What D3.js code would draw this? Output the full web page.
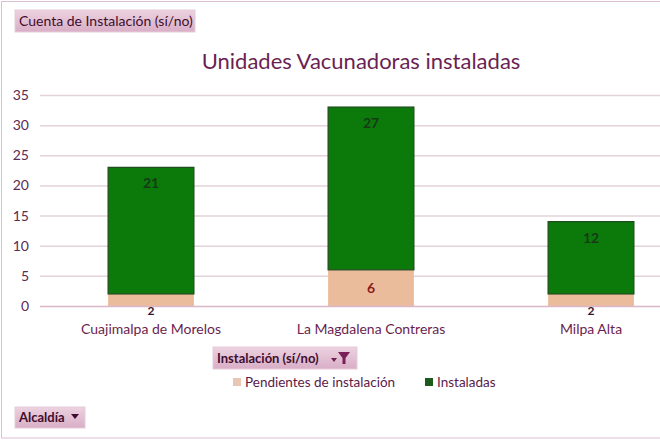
<!DOCTYPE html>
<html>
<head>
<meta charset="utf-8">
<script src="https://cdn.jsdelivr.net/npm/d3@7"></script>
<style>
  body { margin: 0; background: #fff; }
  svg { display: block; font-family: Lato, "Open Sans", sans-serif; }
</style>
</head>
<body>
<svg id="chart" width="660" height="440"></svg>
<script>
// chart values
var categories = ["Cuajimalpa de Morelos", "La Magdalena Contreras", "Milpa Alta"];
var pendientes = [2, 6, 2];
var instaladas = [21, 27, 12];
var seriesNames = ["Pendientes de instalación", "Instaladas"];
var yTicks = [0, 5, 10, 15, 20, 25, 30, 35];

var colors = ["#ebbc9c", "#0b7a0b"];

var svg = d3.select("#chart");
var W = 660, H = 440;

// outer frame
svg.append("rect")
  .attr("x", 1.5).attr("y", 1.5)
  .attr("width", W).attr("height", H - 3.5)
  .attr("fill", "#fff")
  .attr("stroke", "#dcc0d0");

var x = d3.scaleBand()
  .domain(categories)
  .range([41, 701])
  .paddingInner(0.61)
  .paddingOuter(0.305);

var y = d3.scaleLinear().domain([0, 35]).range([306, 95]);

// gridlines
svg.append("g").selectAll("line")
  .data(yTicks.filter(function(d) { return d > 0; }))
  .enter().append("line")
  .attr("x1", 40).attr("x2", W)
  .attr("y1", function(d) { return y(d) + 0.5; })
  .attr("y2", function(d) { return y(d) + 0.5; })
  .attr("stroke", "#e3d3da")
  .attr("stroke-width", 1.5);

// y axis labels
var yAxis = svg.append("g")
  .attr("transform", "translate(29,0)")
  .call(d3.axisLeft(y).tickValues(yTicks).tickSize(0).tickPadding(0));
yAxis.select(".domain").remove();
yAxis.selectAll("text")
  .attr("fill", "#5c2a52")
  .style("font-size", "14px")
  .style("font-family", "Lato, sans-serif");

// stacked data
var rows = categories.map(function(c, i) {
  return { cat: c, p: pendientes[i], s: instaladas[i] };
});
var stack = d3.stack().keys(["p", "s"]);
var layers = stack(rows);

var g = svg.append("g");
layers.forEach(function(layer, li) {
  g.selectAll(".bar" + li)
    .data(layer)
    .enter().append("rect")
    .attr("x", function(d) { return x(d.data.cat); })
    .attr("width", x.bandwidth())
    .attr("y", function(d) { return y(d[1]); })
    .attr("height", function(d) { return y(d[0]) - y(d[1]); })
    .attr("fill", colors[li])
    .attr("stroke", li === 1 ? "#1f4a1c" : "none")
    .attr("stroke-width", li === 1 ? 1.2 : 0);
});

// zero axis line
svg.append("line")
  .attr("x1", 40).attr("x2", W)
  .attr("y1", y(0) + 0.5).attr("y2", y(0) + 0.5)
  .attr("stroke", "#dab6c8")
  .attr("stroke-width", 1.5);

// data labels (on top of axis line)
var lg = svg.append("g");
layers.forEach(function(layer, li) {
  lg.selectAll(".lbl" + li)
    .data(layer)
    .enter().append("text")
    .attr("x", function(d) { return x(d.data.cat) + x.bandwidth() / 2; })
    .attr("y", function(d) {
      if (li === 1) return y(d[1]) + 16;
      var h = y(d[0]) - y(d[1]);
      if (h < 16) return y(0) + 5;
      return (y(d[0]) + y(d[1])) / 2;
    })
    .attr("dy", "0.35em")
    .attr("text-anchor", "middle")
    .attr("fill", function(d) {
      if (li === 1) return "#173a16";
      return (y(d[0]) - y(d[1]) < 16) ? "#3a1630" : "#8a1a1a";
    })
    .style("font-size", function(d) { return (li === 0 && y(d[0]) - y(d[1]) < 16) ? "12px" : "14px"; })
    .style("font-weight", "bold")
    .text(function(d) { return d[1] - d[0]; });
});

// category labels
svg.append("g").selectAll("text")
  .data(categories)
  .enter().append("text")
  .attr("x", function(d) { return x(d) + x.bandwidth() / 2; })
  .attr("y", 329)
  .attr("dy", "0.35em")
  .attr("text-anchor", "middle")
  .attr("fill", "#6a1e50")
  .style("font-size", "14px")
  .text(function(d) { return d; });

// title
svg.append("text")
  .attr("x", 361).attr("y", 69)
  .attr("text-anchor", "middle")
  .attr("fill", "#6b1f52")
  .style("font-size", "22px")
  .text("Unidades Vacunadoras instaladas");

// field buttons
var grad = svg.append("defs").append("linearGradient")
  .attr("id", "btn").attr("x1", 0).attr("y1", 0).attr("x2", 0).attr("y2", 1);
grad.append("stop").attr("offset", "0%").attr("stop-color", "#ecd2e0");
grad.append("stop").attr("offset", "100%").attr("stop-color", "#d9aec6");

function button(bx, by, bw, bh, label, bold) {
  svg.append("rect")
    .attr("x", bx).attr("y", by).attr("width", bw).attr("height", bh)
    .attr("fill", "url(#btn)")
    .attr("stroke", "#e6cbd9");
  svg.append("text")
    .attr("x", bx + 4).attr("y", by + bh / 2)
    .attr("dy", "0.35em")
    .attr("fill", "#3f0d2e")
    .style("font-size", bold ? "13px" : "14px")
    .style("font-weight", bold ? "bold" : "normal")
    .text(label);
}

button(15, 10, 180, 22, "Cuenta de Instalación (sí/no)", false);
button(213, 347, 144, 22, "Instalación (sí/no)", true);
button(15, 407, 70, 21, "Alcaldía", true);

// dropdown arrows and filter icon
svg.append("path")
  .attr("d", "M71,414 L79,414 L75,419 Z")
  .attr("fill", "#3f0d2e");
svg.append("path")
  .attr("d", "M331,358 L337,358 L334,362 Z")
  .attr("fill", "#6b1f52");
svg.append("path")
  .attr("d", "M338,352 L350,352 L345.5,358 L345.5,364 L342.5,364 L342.5,358 Z")
  .attr("fill", "#7a1e5a");

// legend
var legend = svg.append("g").selectAll("g")
  .data(seriesNames)
  .enter().append("g")
  .attr("transform", function(d, i) { return "translate(" + (i === 0 ? 233 : 425) + ",382)"; });
legend.append("rect")
  .attr("x", 0).attr("y", -4).attr("width", 8).attr("height", 8)
  .attr("fill", function(d, i) { return i === 0 ? "#e8c8b4" : "#1d5a1d"; });
legend.append("text")
  .attr("x", 12).attr("y", 0).attr("dy", "0.35em")
  .attr("fill", "#5a1a4a")
  .style("font-size", "13.5px")
  .text(function(d) { return d; });
</script>
</body>
</html>
